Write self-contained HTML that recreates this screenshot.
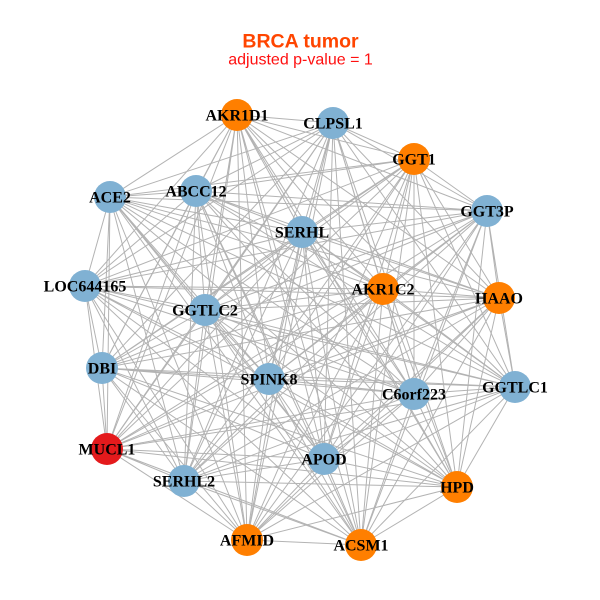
<!DOCTYPE html>
<html>
<head>
<meta charset="utf-8">
<style>
html,body{margin:0;padding:0;background:#fff;}
svg{display:block;}
.lbl{font-family:"Liberation Serif",serif;font-weight:bold;font-size:16px;fill:#000;text-anchor:middle;}
</style>
</head>
<body>
<svg width="600" height="600" viewBox="0 0 600 600" xmlns="http://www.w3.org/2000/svg">
<rect width="600" height="600" fill="#fff"/>
<text x="300.5" y="47.5" text-anchor="middle" style="font-family:'Liberation Sans',sans-serif;font-weight:bold;font-size:19.5px;fill:#FF4500;">BRCA tumor</text>
<text x="300.5" y="64.5" text-anchor="middle" style="font-family:'Liberation Sans',sans-serif;font-size:16px;fill:#FF1010;">adjusted p-value = 1</text>
<g fill="none" stroke="#b3b3b3" stroke-width="1" stroke-linejoin="round">
<path d="M237 115L333 123 237 115 414 159 237 115 487 211 237 115 110 197 237 115 196 191 237 115 302 232 237 115 85 286 237 115 383 289 237 115 499 298 237 115 205 310 237 115 102 368 237 115 269 379 237 115 414 394 237 115 515 387 237 115 107 449 237 115 324 459 237 115 184 481 237 115 457 487 237 115 247 540 237 115 361 545"/>
<path d="M333 123L414 159 333 123 487 211 333 123 110 197 333 123 196 191 333 123 302 232 333 123 85 286 333 123 383 289 333 123 499 298 333 123 205 310 333 123 102 368 333 123 269 379 333 123 414 394 333 123 515 387 333 123 107 449 333 123 324 459 333 123 184 481 333 123 457 487 333 123 247 540 333 123 361 545"/>
<path d="M414 159L487 211 414 159 110 197 414 159 196 191 414 159 302 232 414 159 85 286 414 159 383 289 414 159 499 298 414 159 205 310 414 159 102 368 414 159 269 379 414 159 414 394 414 159 515 387 414 159 107 449 414 159 324 459 414 159 184 481 414 159 457 487 414 159 247 540 414 159 361 545"/>
<path d="M487 211L110 197 487 211 196 191 487 211 302 232 487 211 85 286 487 211 383 289 487 211 499 298 487 211 205 310 487 211 102 368 487 211 269 379 487 211 414 394 487 211 515 387 487 211 107 449 487 211 324 459 487 211 184 481 487 211 457 487 487 211 247 540 487 211 361 545"/>
<path d="M110 197L196 191 110 197 302 232 110 197 85 286 110 197 383 289 110 197 499 298 110 197 205 310 110 197 102 368 110 197 269 379 110 197 414 394 110 197 515 387 110 197 107 449 110 197 324 459 110 197 184 481 110 197 457 487 110 197 247 540 110 197 361 545"/>
<path d="M196 191L302 232 196 191 85 286 196 191 383 289 196 191 499 298 196 191 205 310 196 191 102 368 196 191 269 379 196 191 414 394 196 191 515 387 196 191 107 449 196 191 324 459 196 191 184 481 196 191 457 487 196 191 247 540 196 191 361 545"/>
<path d="M302 232L85 286 302 232 383 289 302 232 499 298 302 232 205 310 302 232 102 368 302 232 269 379 302 232 414 394 302 232 515 387 302 232 107 449 302 232 324 459 302 232 184 481 302 232 457 487 302 232 247 540 302 232 361 545"/>
<path d="M85 286L383 289 85 286 499 298 85 286 205 310 85 286 102 368 85 286 269 379 85 286 414 394 85 286 515 387 85 286 107 449 85 286 324 459 85 286 184 481 85 286 457 487 85 286 247 540 85 286 361 545"/>
<path d="M383 289L499 298 383 289 205 310 383 289 102 368 383 289 269 379 383 289 414 394 383 289 515 387 383 289 107 449 383 289 324 459 383 289 184 481 383 289 457 487 383 289 247 540 383 289 361 545"/>
<path d="M499 298L205 310 499 298 102 368 499 298 269 379 499 298 414 394 499 298 515 387 499 298 107 449 499 298 324 459 499 298 184 481 499 298 457 487 499 298 247 540 499 298 361 545"/>
<path d="M205 310L102 368 205 310 269 379 205 310 414 394 205 310 515 387 205 310 107 449 205 310 324 459 205 310 184 481 205 310 457 487 205 310 247 540 205 310 361 545"/>
<path d="M102 368L269 379 102 368 414 394 102 368 515 387 102 368 107 449 102 368 324 459 102 368 184 481 102 368 457 487 102 368 247 540 102 368 361 545"/>
<path d="M269 379L414 394 269 379 515 387 269 379 107 449 269 379 324 459 269 379 184 481 269 379 457 487 269 379 247 540 269 379 361 545"/>
<path d="M414 394L515 387 414 394 107 449 414 394 324 459 414 394 184 481 414 394 457 487 414 394 247 540 414 394 361 545"/>
<path d="M515 387L107 449 515 387 324 459 515 387 184 481 515 387 457 487 515 387 247 540 515 387 361 545"/>
<path d="M107 449L324 459 107 449 184 481 107 449 457 487 107 449 247 540 107 449 361 545"/>
<path d="M324 459L184 481 324 459 457 487 324 459 247 540 324 459 361 545"/>
<path d="M184 481L457 487 184 481 247 540 184 481 361 545"/>
<path d="M457 487L247 540 457 487 361 545"/>
<path d="M247 540L361 545"/>
</g>
<g>
<circle cx="237" cy="115" r="16" fill="#FF7F00"/>
<circle cx="333" cy="123" r="16" fill="#80B1D3"/>
<circle cx="414" cy="159" r="16" fill="#FF7F00"/>
<circle cx="487" cy="211" r="16" fill="#80B1D3"/>
<circle cx="110" cy="197" r="16" fill="#80B1D3"/>
<circle cx="196" cy="191" r="16" fill="#80B1D3"/>
<circle cx="302" cy="232" r="16" fill="#80B1D3"/>
<circle cx="85" cy="286" r="16" fill="#80B1D3"/>
<circle cx="383" cy="289" r="16" fill="#FF7F00"/>
<circle cx="499" cy="298" r="16" fill="#FF7F00"/>
<circle cx="205" cy="310" r="16" fill="#80B1D3"/>
<circle cx="102" cy="368" r="16" fill="#80B1D3"/>
<circle cx="269" cy="379" r="16" fill="#80B1D3"/>
<circle cx="414" cy="394" r="16" fill="#80B1D3"/>
<circle cx="515" cy="387" r="16" fill="#80B1D3"/>
<circle cx="107" cy="449" r="16" fill="#E41A1C"/>
<circle cx="324" cy="459" r="16" fill="#80B1D3"/>
<circle cx="184" cy="481" r="16" fill="#80B1D3"/>
<circle cx="457" cy="487" r="16" fill="#FF7F00"/>
<circle cx="247" cy="540" r="16" fill="#FF7F00"/>
<circle cx="361" cy="545" r="16" fill="#FF7F00"/>
</g>
<g class="lbl">
<text class="lbl" x="237" y="120.5">AKR1D1</text>
<text class="lbl" x="333" y="128.5">CLPSL1</text>
<text class="lbl" x="414" y="164.5">GGT1</text>
<text class="lbl" x="487" y="216.5">GGT3P</text>
<text class="lbl" x="110" y="202.5">ACE2</text>
<text class="lbl" x="196" y="196.5">ABCC12</text>
<text class="lbl" x="302" y="237.5">SERHL</text>
<text class="lbl" x="85" y="291.5">LOC644165</text>
<text class="lbl" x="383" y="294.5">AKR1C2</text>
<text class="lbl" x="499" y="303.5">HAAO</text>
<text class="lbl" x="205" y="315.5">GGTLC2</text>
<text class="lbl" x="102" y="373.5">DBI</text>
<text class="lbl" x="269" y="384.5">SPINK8</text>
<text class="lbl" x="414" y="399.5">C6orf223</text>
<text class="lbl" x="515" y="392.5">GGTLC1</text>
<text class="lbl" x="107" y="454.5">MUCL1</text>
<text class="lbl" x="324" y="464.5">APOD</text>
<text class="lbl" x="184" y="486.5">SERHL2</text>
<text class="lbl" x="457" y="492.5">HPD</text>
<text class="lbl" x="247" y="545.5">AFMID</text>
<text class="lbl" x="361" y="550.5">ACSM1</text>
</g>
</svg>
</body>
</html>
